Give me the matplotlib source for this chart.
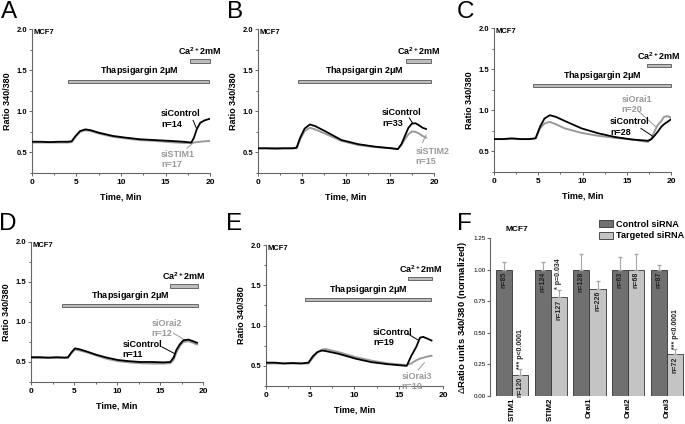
import numpy as np
import matplotlib
matplotlib.use("Agg")
import matplotlib.pyplot as plt
from matplotlib.patches import Patch
from matplotlib.ticker import MultipleLocator

plt.rcParams['font.family'] = ['Liberation Sans', 'DejaVu Sans']
plt.rcParams['mathtext.fontset'] = 'custom'
plt.rcParams['mathtext.rm'] = 'Liberation Sans'
plt.rcParams['mathtext.bf'] = 'Liberation Sans:bold'

# ---- traces (time in min, ratio 340/380) ----
a_time = [0, 1, 2, 3, 4, 4.45, 4.9, 5.4, 6.0, 6.6, 7.5, 9.1, 10.5, 12.1, 13.8, 15.5, 17.0, 17.9, 18.2, 18.5, 18.9, 19.4, 20]
a_ctrl = [0.63, 0.63, 0.625, 0.63, 0.63, 0.635, 0.70, 0.76, 0.78, 0.77, 0.74, 0.70, 0.68, 0.66, 0.65, 0.64, 0.63, 0.62, 0.68, 0.78, 0.86, 0.89, 0.91]
a_si = [0.62, 0.62, 0.62, 0.62, 0.62, 0.625, 0.69, 0.75, 0.77, 0.76, 0.73, 0.69, 0.67, 0.65, 0.64, 0.625, 0.615, 0.615, 0.62, 0.625, 0.63, 0.635, 0.64]

b_time = [0, 1, 2, 3, 4, 4.4, 4.8, 5.3, 5.9, 6.5, 7.6, 9.5, 11.4, 13.3, 15.2, 15.9, 16.3, 16.7, 17.1, 17.5, 17.9, 18.3, 18.7, 19.1]
b_ctrl = [0.55, 0.55, 0.55, 0.55, 0.55, 0.56, 0.68, 0.79, 0.84, 0.82, 0.76, 0.65, 0.60, 0.57, 0.55, 0.54, 0.60, 0.70, 0.80, 0.85, 0.855, 0.83, 0.80, 0.785]
b_si = [0.55, 0.55, 0.54, 0.55, 0.55, 0.55, 0.66, 0.76, 0.80, 0.78, 0.73, 0.64, 0.59, 0.565, 0.55, 0.54, 0.59, 0.66, 0.72, 0.755, 0.75, 0.73, 0.70, 0.68]

c_time = [0, 1, 2, 3, 4, 4.7, 5.2, 5.7, 6.3, 7.0, 8.0, 9.9, 11.8, 13.7, 15.6, 17.4, 17.8, 18.2, 18.5, 18.9, 19.2, 19.6, 20]
c_ctrl = [0.65, 0.65, 0.66, 0.65, 0.65, 0.66, 0.80, 0.90, 0.94, 0.92, 0.87, 0.78, 0.72, 0.675, 0.645, 0.63, 0.65, 0.70, 0.74, 0.80, 0.83, 0.86, 0.89]
c_si = [0.65, 0.65, 0.65, 0.65, 0.65, 0.66, 0.78, 0.84, 0.86, 0.83, 0.78, 0.725, 0.69, 0.665, 0.645, 0.615, 0.66, 0.76, 0.82, 0.87, 0.92, 0.93, 0.91]

d_time = [0, 1, 2, 3, 4, 4.3, 4.7, 5.1, 5.6, 6.5, 7.6, 8.8, 10.1, 11.4, 12.7, 14, 15.4, 16.2, 16.6, 16.9, 17.3, 17.7, 18.3, 18.7, 19.3]
d_ctrl = [0.56, 0.56, 0.555, 0.56, 0.555, 0.56, 0.62, 0.67, 0.66, 0.63, 0.59, 0.555, 0.525, 0.51, 0.50, 0.50, 0.495, 0.50, 0.56, 0.65, 0.72, 0.77, 0.78, 0.765, 0.74]
d_si = [0.55, 0.55, 0.55, 0.55, 0.55, 0.55, 0.61, 0.655, 0.645, 0.62, 0.58, 0.54, 0.51, 0.495, 0.485, 0.48, 0.48, 0.485, 0.53, 0.62, 0.70, 0.75, 0.76, 0.745, 0.72]

e_time = [0, 1, 2, 3, 4, 4.8, 5.3, 5.8, 6.3, 6.7, 8.2, 10.1, 11.9, 13.8, 15.9, 16.4, 17.0, 17.4, 17.75, 18.2, 18.7]
e_ctrl = [0.54, 0.54, 0.53, 0.535, 0.53, 0.54, 0.62, 0.67, 0.69, 0.685, 0.65, 0.59, 0.546, 0.52, 0.50, 0.62, 0.74, 0.85, 0.86, 0.84, 0.815]
e_si = [0.53, 0.53, 0.53, 0.53, 0.53, 0.53, 0.60, 0.67, 0.70, 0.71, 0.67, 0.61, 0.565, 0.53, 0.51, 0.53, 0.57, 0.59, 0.60, 0.615, 0.626]

# ---- bar panel F ----
genes = ["STIM1", "STIM2", "Orai1", "Orai2", "Orai3"]
ctrl_mean = [1.0, 1.0, 1.0, 1.0, 1.0]
ctrl_err = [0.06, 0.06, 0.12, 0.10, 0.04]
targ_mean = [0.17, 0.78, 0.85, 1.0, 0.33]
targ_err = [0.04, 0.06, 0.06, 0.12, 0.04]
ctrl_n = ["n=85", "n=124", "n=128", "n=63", "n=87"]
targ_n = ["n=120", "n=127", "n=226", "n=68", "n=72"]
p_text = ["*** p<0.0001", "* p=0.034", "", "", "*** p<0.0001"]

fig = plt.figure(figsize=(6.85, 4.24), dpi=100)

BLACK = "#000000"
GRAY = "#9a9a9a"
AXC = "#666666"


def trace_panel(rect, t, ctrl, si, thaps, ca, si_name, n_ctrl, n_si,
                ctrl_lab, si_lab, ctrl_ptr, si_ptr):
    ax = fig.add_axes(rect)
    ax.plot(t, si, color=GRAY, lw=1.4, zorder=2)
    ax.plot(t, ctrl, color=BLACK, lw=1.3, zorder=3)
    ax.set_xlim(0, 20)
    ax.set_ylim(0.25, 2.0)
    for s in ["top", "right"]:
        ax.spines[s].set_visible(False)
    for s in ["left", "bottom"]:
        ax.spines[s].set_color(AXC)
        ax.spines[s].set_linewidth(0.8)
    ax.xaxis.set_major_locator(MultipleLocator(5))
    ax.xaxis.set_minor_locator(MultipleLocator(2.5))
    ax.set_yticks([0.5, 1.0, 1.5, 2.0])
    ax.set_yticklabels(["0.5", "1.0", "1.5", "2.0"])
    ax.yaxis.set_minor_locator(MultipleLocator(0.25))
    ax.tick_params(which="both", direction="out", color=AXC, width=0.7)
    ax.tick_params(which="major", length=2.5)
    ax.tick_params(which="minor", length=1.5)
    ax.tick_params(axis="y", labelsize=5.5, pad=1)
    ax.tick_params(axis="x", labelsize=6, pad=1.5)
    for lab in ax.get_xticklabels() + ax.get_yticklabels():
        lab.set_fontweight("bold")
    ax.set_xlabel("Time, Min", fontsize=6.5, fontweight="bold", labelpad=5)
    ax.set_ylabel("Ratio 340/380", fontsize=6.5, fontweight="bold", labelpad=3)
    ax.text(0.2, 1.955, "MCF7", fontsize=5.5, fontweight="bold", va="center")
    # treatment bars
    x0, x1, yb = thaps
    ax.add_patch(plt.Rectangle((x0, yb - 0.02), x1 - x0, 0.04, facecolor="#bdbdbd",
                               edgecolor="#555555", lw=0.6, clip_on=False))
    ax.text((x0 + x1) / 2, yb + 0.045, r"Thapsigargin 2$\mathbf{\mu}$M", fontsize=6.5,
            fontweight="bold", ha="center", va="bottom")
    x0, x1, yb = ca
    ax.add_patch(plt.Rectangle((x0, yb - 0.02), x1 - x0, 0.04, facecolor="#bdbdbd",
                               edgecolor="#555555", lw=0.6, clip_on=False))
    ax.text((x0 + x1) / 2, yb + 0.045, r"Ca$^{\mathbf{2+}}$2mM", fontsize=6.5,
            fontweight="bold", ha="center", va="bottom")
    # labels
    cx, cy = ctrl_lab
    ax.text(cx, cy, "siControl", fontsize=6.5, fontweight="bold", va="center", color=BLACK)
    ax.text(cx, cy - 0.125, n_ctrl, fontsize=6.5, fontweight="bold", va="center", color=BLACK)
    sx, sy = si_lab
    ax.text(sx, sy, si_name, fontsize=6.5, fontweight="bold", va="center", color=GRAY,
            clip_on=False)
    ax.text(sx, sy - 0.12, n_si, fontsize=6.5, fontweight="bold", va="center", color=GRAY,
            clip_on=False)
    ax.plot(ctrl_ptr[0], ctrl_ptr[1], color=BLACK, lw=0.7)
    ax.plot(si_ptr[0], si_ptr[1], color=GRAY, lw=0.7)
    return ax


trace_panel([0.0467, 0.592, 0.2599, 0.3396], a_time, a_ctrl, a_si,
            (4.1, 19.9, 1.366), (17.75, 20.0, 1.61), "siSTIM1", "n=14", "n=17",
            (14.5, 0.97), (14.5, 0.47), ([18.1, 18.45], [0.89, 0.80]), ([17.4, 18.1], [0.55, 0.615]))
trace_panel([0.3766, 0.592, 0.2569, 0.3396], b_time, b_ctrl, b_si,
            (4.55, 19.7, 1.366), (16.85, 19.7, 1.61), "siSTIM2", "n=33", "n=15",
            (14.1, 0.98), (17.9, 0.51), ([17.2, 17.6], [0.92, 0.85]), ([18.7, 19.1], [0.62, 0.71]))
trace_panel([0.7212, 0.5943, 0.2584, 0.3396], c_time, c_ctrl, c_si,
            (4.36, 20.0, 1.30), (17.26, 20.0, 1.545), "siOrai1", "n=28", "n=20",
            (13.1, 0.86), (14.4, 1.13), ([16.6, 18.0], [0.78, 0.68]), ([16.3, 18.3], [0.99, 0.80]))
trace_panel([0.0453, 0.0991, 0.2511, 0.3302], d_time, d_ctrl, d_si,
            (3.65, 19.4, 1.21), (16.2, 19.4, 1.45), "siOrai2", "n=11", "n=12",
            (10.6, 0.72), (14.0, 0.98), ([15.2, 16.6], [0.69, 0.61]), ([16.55, 17.9], [0.86, 0.775]))
trace_panel([0.3883, 0.0896, 0.2584, 0.3325], e_time, e_ctrl, e_si,
            (4.43, 18.7, 1.32), (16.1, 18.75, 1.585), "siOrai3", "n=19", "n=10",
            (12.1, 0.92), (15.3, 0.37), ([16.0, 17.2], [0.90, 0.82]), ([17.2, 17.9], [0.45, 0.54]))

# ---- panel F ----
axf = fig.add_axes([0.7153, 0.066, 0.2832, 0.3726])
x = np.arange(len(genes))
w = 0.42
CTRL_C = "#707070"
TARG_C = "#c4c4c4"
axf.bar(x - w / 2, ctrl_mean, w, color=CTRL_C, edgecolor="#333333", lw=0.6,
        yerr=[np.zeros(5), ctrl_err], error_kw=dict(ecolor="#a8a8a8", capsize=1.5, lw=0.8))
axf.bar(x + w / 2, targ_mean, w, color=TARG_C, edgecolor="#333333", lw=0.6,
        yerr=[np.zeros(5), targ_err], error_kw=dict(ecolor="#a8a8a8", capsize=1.5, lw=0.8))
for i in range(len(genes)):
    axf.text(x[i] - w / 2, ctrl_mean[i] - 0.015, ctrl_n[i], rotation=90, ha="center",
             va="top", fontsize=5, fontweight="bold", color="#222222")
    axf.text(x[i] + w / 2, targ_mean[i] - 0.015, targ_n[i], rotation=90, ha="center",
             va="top", fontsize=5, fontweight="bold", color="#222222")
    if p_text[i]:
        axf.text(x[i] + w / 2, targ_mean[i] + targ_err[i] + 0.005, p_text[i], rotation=90,
                 ha="center", va="bottom", fontsize=5, fontweight="bold", color="#222222")
axf.set_xlim(-0.57, 4.44)
axf.set_ylim(0, 1.25)
axf.set_yticks([0, 0.25, 0.5, 0.75, 1.0, 1.25])
axf.set_yticklabels(["0.00", "0.25", "0.50", "0.75", "1.00", "1.25"])
axf.set_xticks(x)
axf.set_xticklabels(genes, rotation=90, fontsize=5.8, fontweight="bold")
for s in ["top", "right", "bottom"]:
    axf.spines[s].set_visible(False)
axf.spines["left"].set_color(AXC)
axf.spines["left"].set_linewidth(0.8)
axf.tick_params(axis="y", labelsize=4.5, length=2, color=AXC, pad=1)
axf.tick_params(axis="x", length=0, pad=1)
axf.set_ylabel(r"$\Delta$Ratio units 340/380 (normalized)", fontsize=6.8,
               fontweight="bold")
axf.yaxis.set_label_coords(-0.11, 0.5)
axf.text(-0.18, 1.317, "MCF7", fontsize=6, fontweight="bold", va="center", clip_on=False)
handles = [Patch(facecolor=CTRL_C, edgecolor="#333333", lw=0.6),
           Patch(facecolor=TARG_C, edgecolor="#333333", lw=0.6)]
fig.legend(handles, ["Control siRNA", "Targeted siRNA"], loc="upper left",
           bbox_to_anchor=(0.874, 0.481), frameon=False,
           prop=dict(weight="bold", size=6.6), handlelength=1.6, handleheight=0.8,
           handletextpad=0.3, labelspacing=0.25, borderpad=0, borderaxespad=0)

# panel letters
for lab, (px, py) in zip("ABCDEF", [(1, 1), (227, 1), (457, 1), (-1, 213), (226, 213), (457, 213)]):
    fig.text(px / 685, 1 - py / 424, lab, fontsize=17.5, va="top", ha="left")

fig.savefig("out.png", dpi=100)
